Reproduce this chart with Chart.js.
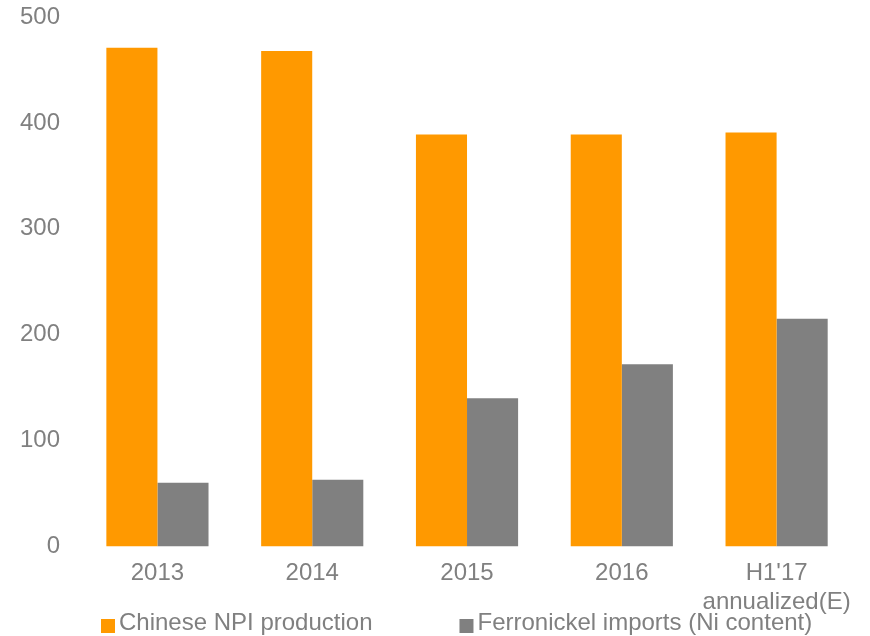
<!DOCTYPE html>
<html>
<head>
<meta charset="utf-8">
<script src="https://cdn.jsdelivr.net/npm/chart.js@4/dist/chart.umd.min.js"></script>
<style>
  html, body { margin: 0; padding: 0; background: #fff; }
  #wrap { width: 870px; height: 636px; }
</style>
</head>
<body>
<div id="wrap"><canvas id="myChart" width="870" height="636"></canvas></div>
<script>
const categories = ['2013', '2014', '2015', '2016', ["H1'17", 'annualized(E)']];
const npiProduction = [471, 468, 389, 389, 391];
const ferronickelImports = [60, 63, 140, 172, 215];
const yTicks = [0, 100, 200, 300, 400, 500];

const textGrey = '#808080';
const fontFamily = '"Liberation Sans", Arial, sans-serif';

// legend drawn by hand so spacing matches the original
const bottomLegend = {
	id: 'bottomLegend',
	afterDraw(chart) {
		const ctx = chart.ctx;
		ctx.save();
		ctx.font = '24px ' + fontFamily;
		ctx.textBaseline = 'middle';
		ctx.textAlign = 'left';
		let x = 101;
		chart.data.datasets.forEach(ds => {
			ctx.fillStyle = ds.backgroundColor;
			ctx.fillRect(x, 619, 14, 14);
			ctx.fillStyle = textGrey;
			ctx.fillText(ds.label, x + 18, 623);
			x += 18 + ctx.measureText(ds.label).width + 87;
		});
		ctx.restore();
	}
};

new Chart(
	document.getElementById('myChart'),
	{
		type: 'bar',
		data: {
			labels: categories,
			datasets: [
				{
					label: 'Chinese NPI production',
					data: npiProduction,
					backgroundColor: '#FF9900',
					borderWidth: 0
				},
				{
					label: 'Ferronickel imports (Ni content)',
					data: ferronickelImports,
					backgroundColor: '#808080',
					borderWidth: 0
				}
			]
		},
		plugins: [bottomLegend],
		options: {
			responsive: false,
			animation: false,
			layout: {
				padding: { left: 0, right: 16, top: 17, bottom: 6 }
			},
			datasets: {
				bar: { categoryPercentage: 0.66, barPercentage: 1.0 }
			},
			plugins: {
				legend: { display: false },
				tooltip: { enabled: false }
			},
			scales: {
				x: {
					grid: { display: false, drawTicks: false },
					border: { display: false },
					ticks: {
						color: textGrey,
						font: { family: fontFamily, size: 24, lineHeight: 1.2 },
						padding: 13,
						maxRotation: 0,
						minRotation: 0,
						autoSkip: false
					}
				},
				y: {
					min: 0,
					max: 500,
					grid: { display: false, drawTicks: false },
					border: { display: false },
					afterBuildTicks: axis => {
						axis.ticks = yTicks.map(v => ({ value: v }));
					},
					// tick padding is only wanted sideways, not above the top label
					afterFit: axis => {
						axis.paddingTop = 14;
						axis.paddingBottom = 14;
					},
					ticks: {
						color: textGrey,
						font: { family: fontFamily, size: 24 },
						padding: 20
					}
				}
			}
		}
	}
);
</script>
</body>
</html>
